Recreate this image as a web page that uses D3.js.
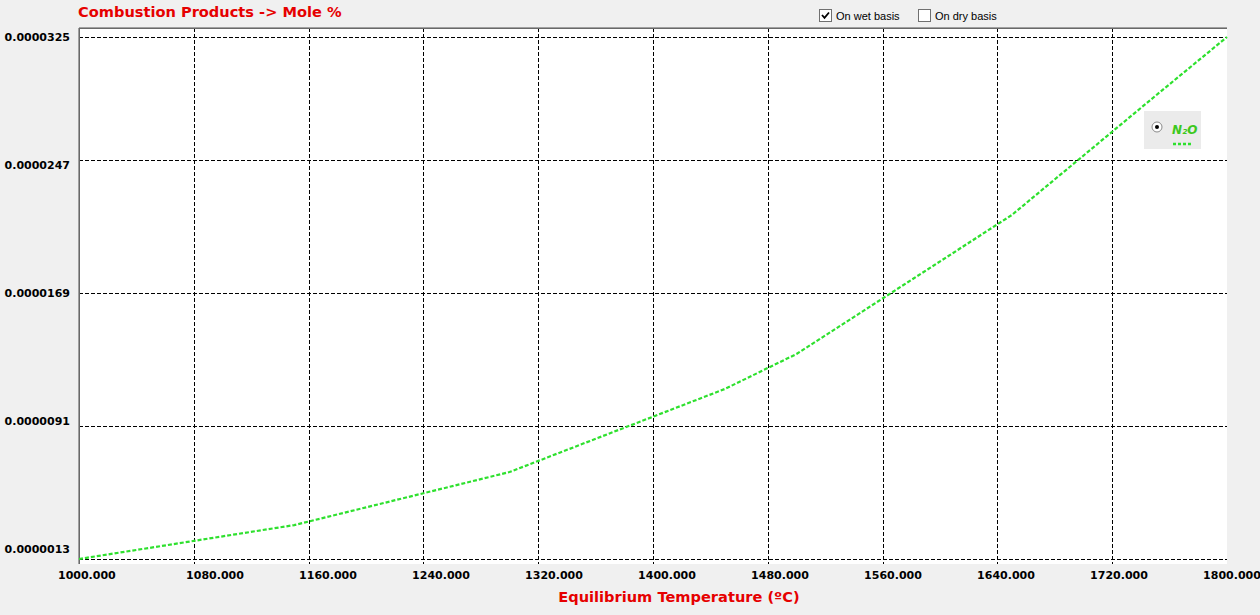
<!DOCTYPE html>
<html>
<head>
<meta charset="utf-8">
<script src="https://cdn.jsdelivr.net/npm/d3@7"></script>
<style>
  html, body { margin: 0; padding: 0; background: #f0f0f0; }
  svg { display: block; }
</style>
</head>
<body>
<svg id="chart" width="1260" height="615"></svg>
<script>
// ---- data ----
const temperatures = [1000, 1150, 1300, 1450, 1500, 1650, 1750, 1800];
const n2oValues = [0.0000013, 0.00000329, 0.0000064, 0.00001127, 0.00001332, 0.00002147, 0.00002876, 0.0000325];
const xTickValues = [1000, 1080, 1160, 1240, 1320, 1400, 1480, 1560, 1640, 1720, 1800];
const yTickValues = [0.0000013, 0.0000091, 0.0000169, 0.0000247, 0.0000325];
const yTickLabels = ["0.0000013", "0.0000091", "0.0000169", "0.0000247", "0.0000325"];
const seriesName = "N₂O";
const chartTitle = "Combustion Products -> Mole %";
const xTitle = "Equilibrium Temperature (ºC)";

// ---- layout ----
const svg = d3.select("#chart");
const plot = { left: 79, right: 1227, top: 28, bottom: 564 };

const x = d3.scaleLinear().domain([1000, 1800]).range([plot.left, plot.right]);
// the source app spaces its horizontal grid unevenly: piecewise linear scale
const y = d3.scaleLinear().domain(yTickValues).range([559, 426, 293, 160, 37]);
// tick labels are laid out on their own evenly spaced scales
const yLabel = d3.scaleLinear().domain([yTickValues[0], yTickValues[yTickValues.length - 1]]).range([549, 37]);
const xLabel = d3.scaleLinear().domain([1000, 1800]).range([102, 1232]);

const font = "'DejaVu Sans', Verdana, sans-serif";

// plot background
svg.append("rect")
  .attr("x", plot.left).attr("y", plot.top)
  .attr("width", plot.right - plot.left).attr("height", plot.bottom - plot.top)
  .attr("fill", "#ffffff");

// grid
const grid = svg.append("g").attr("stroke", "#000").attr("stroke-width", 1)
  .attr("stroke-dasharray", "4,2").attr("shape-rendering", "crispEdges");
grid.selectAll("line.v").data(xTickValues.slice(1, -1)).join("line")
  .attr("class", "v")
  .attr("x1", d => Math.round(x(d)) + 0.5).attr("x2", d => Math.round(x(d)) + 0.5)
  .attr("y1", plot.top).attr("y2", plot.bottom);
grid.selectAll("line.h").data(yTickValues).join("line")
  .attr("class", "h")
  .attr("x1", plot.left).attr("x2", plot.right)
  .attr("y1", d => Math.round(y(d)) + 0.5).attr("y2", d => Math.round(y(d)) + 0.5);

// frame (top & left)
svg.append("line").attr("x1", plot.left).attr("x2", plot.right)
  .attr("y1", plot.top - 0.5).attr("y2", plot.top - 0.5)
  .attr("stroke", "#a0a0a0").attr("stroke-width", 1);
svg.append("line").attr("x1", plot.left).attr("x2", plot.right)
  .attr("y1", plot.top + 0.5).attr("y2", plot.top + 0.5)
  .attr("stroke", "#696969").attr("stroke-width", 1);
svg.append("line").attr("x1", plot.left - 0.5).attr("x2", plot.left - 0.5)
  .attr("y1", plot.top).attr("y2", plot.bottom)
  .attr("stroke", "#a0a0a0").attr("stroke-width", 1);
svg.append("line").attr("x1", plot.left + 0.5).attr("x2", plot.left + 0.5)
  .attr("y1", plot.top).attr("y2", plot.bottom)
  .attr("stroke", "#696969").attr("stroke-width", 1);

// series line
const line = d3.line().x((d, i) => x(temperatures[i])).y(d => y(d));
svg.append("path")
  .datum(n2oValues)
  .attr("d", line)
  .attr("fill", "none")
  .attr("stroke", "#2ee02e")
  .attr("stroke-width", 2.2)
  .attr("stroke-dasharray", "4,2");

// y tick labels
svg.append("g").selectAll("text").data(yTickValues).join("text")
  .attr("x", 70)
  .attr("y", d => yLabel(d))
  .attr("dy", "0.35em")
  .attr("text-anchor", "end")
  .attr("font-family", font).attr("font-weight", "bold").attr("font-size", 11)
  .attr("fill", "#000")
  .text((d, i) => yTickLabels[i]);

// x tick labels
svg.append("g").selectAll("text").data(xTickValues).join("text")
  .attr("x", (d, i) => i === 0 ? x(d) - 21 : xLabel(d))
  .attr("y", 575)
  .attr("dy", "0.35em")
  .attr("text-anchor", (d, i) => i === 0 ? "start" : "middle")
  .attr("font-family", font).attr("font-weight", "bold").attr("font-size", 11)
  .attr("fill", "#000")
  .text(d => d3.format(".3f")(d));

// titles
svg.append("text")
  .attr("x", 78).attr("y", 12).attr("dy", "0.35em")
  .attr("font-family", font).attr("font-weight", "bold").attr("font-size", 14.6)
  .attr("fill", "#e60000")
  .text(chartTitle);
svg.append("text")
  .attr("x", 679).attr("y", 597).attr("dy", "0.35em")
  .attr("text-anchor", "middle")
  .attr("font-family", font).attr("font-weight", "bold").attr("font-size", 14.6)
  .attr("fill", "#e60000")
  .text(xTitle);

// checkboxes
const checks = [
  { label: "On wet basis", checked: true, x: 819 },
  { label: "On dry basis", checked: false, x: 918 }
];
const cb = svg.append("g").selectAll("g").data(checks).join("g")
  .attr("transform", d => `translate(${d.x},9)`);
cb.append("rect").attr("x", 0.5).attr("y", 0.5).attr("width", 12).attr("height", 12)
  .attr("fill", "#fff").attr("stroke", "#707070");
cb.filter(d => d.checked).append("path")
  .attr("d", "M3,6 L5.5,8.8 L10,3.5")
  .attr("fill", "none").attr("stroke", "#000").attr("stroke-width", 1.8);
cb.append("text").attr("x", 17).attr("y", 7).attr("dy", "0.35em")
  .attr("font-family", "'Liberation Sans', Arial, sans-serif").attr("font-size", 11)
  .attr("fill", "#000")
  .text(d => d.label);

// legend
const lg = svg.append("g").attr("transform", "translate(1144,111)");
lg.append("rect").attr("width", 57).attr("height", 38).attr("fill", "#ebebeb");
lg.append("circle").attr("cx", 13).attr("cy", 16).attr("r", 5)
  .attr("fill", "#fff").attr("stroke", "#8a8a8a").attr("stroke-width", 1);
lg.append("circle").attr("cx", 13).attr("cy", 16).attr("r", 2).attr("fill", "#000");
lg.append("text").attr("x", 28).attr("y", 19).attr("dy", "0.35em")
  .attr("font-family", font).attr("font-weight", "bold").attr("font-style", "italic")
  .attr("font-size", 12).attr("fill", "#3cc81e")
  .text(seriesName);
lg.append("line").attr("x1", 29).attr("x2", 47).attr("y1", 33).attr("y2", 33)
  .attr("stroke", "#2ee02e").attr("stroke-width", 2.5).attr("stroke-dasharray", "3,2");
</script>
</body>
</html>
